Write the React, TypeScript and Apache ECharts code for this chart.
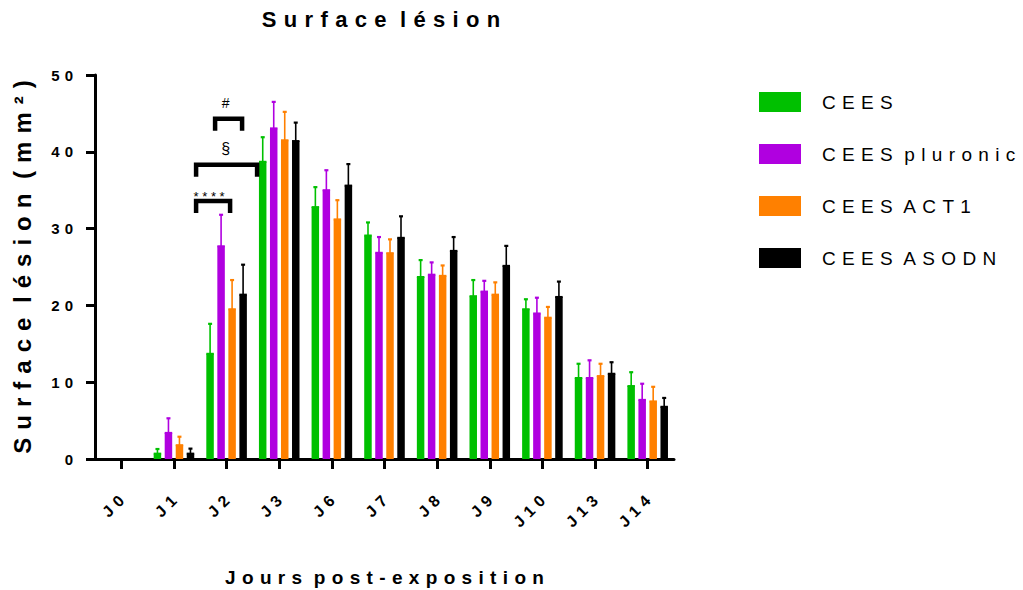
import React, { useEffect, useRef } from 'react';
import * as echarts from 'echarts';

const categories = ['J0', 'J1', 'J2', 'J3', 'J6', 'J7', 'J8', 'J9', 'J10', 'J13', 'J14'];
const seriesNames = ['CEES', 'CEES pluronic', 'CEES ACT1', 'CEES ASODN'];
const seriesColors = ['#00C000', '#B000E0', '#FF8000', '#000000'];

const ceesMean = [0, 0.7, 13.7, 38.7, 32.8, 29.1, 23.7, 21.2, 19.5, 10.55, 9.5];
const ceesErr = [0, 0.6, 3.9, 3.2, 2.6, 1.7, 2.2, 2.1, 1.3, 1.85, 1.8];
const pluronicMean = [0, 3.4, 27.7, 43.05, 35.0, 26.85, 24.0, 21.8, 18.95, 10.55, 7.7];
const pluronicErr = [0, 1.9, 4.1, 3.45, 2.6, 2.05, 1.6, 1.4, 2.05, 2.3, 2.1];
const act1Mean = [0, 1.8, 19.5, 41.5, 31.2, 26.8, 23.85, 21.4, 18.4, 10.8, 7.5];
const act1Err = [0, 1.1, 3.8, 3.7, 2.5, 1.8, 1.35, 1.6, 1.4, 1.6, 1.9];
const asodnMean = [0, 0.7, 21.4, 41.4, 35.6, 28.8, 27.1, 25.15, 21.1, 11.1, 6.8];
const asodnErr = [0, 0.65, 3.9, 2.4, 2.8, 2.8, 1.8, 2.6, 2.0, 1.5, 1.15];

const means = [ceesMean, pluronicMean, act1Mean, asodnMean];
const errs = [ceesErr, pluronicErr, act1Err, asodnErr];

const yTicks = [0, 10, 20, 30, 40, 50];

const titleText = 'Surface lésion';
const yName = 'Surface lésion (mm²)';
const xName = 'Jours post-exposition';

const FONT = 'Arial, "Liberation Sans", Helvetica, sans-serif';
const SEP = '\u2004';
const sp = (s: string) => s.split(' ').map((w) => Array.from(w).join(SEP)).join(SEP + ' ');

const BAR_W = 7.5;
const BAR_STEP = 11;

export default function App() {
  const ref = useRef<HTMLDivElement>(null);

  useEffect(() => {
    if (!ref.current) return;
    const chart = echarts.init(ref.current, null, { renderer: 'svg' });

    const barSeries = seriesNames.map((name, i) => ({
      name,
      type: 'bar',
      data: means[i],
      barWidth: BAR_W,
      barGap: '47%',
      itemStyle: { color: seriesColors[i] },
      z: 2,
    }));

    const errSeries = seriesNames.map((name, i) => ({
      name: 'err-' + name,
      type: 'custom',
      z: 3,
      data: means[i].map((m, k) => [k, m, errs[i][k]]),
      renderItem: (params: any, api: any) => {
        const e = api.value(2);
        if (!e) return null;
        const offset = (i - 1.5) * BAR_STEP;
        const x = api.coord([api.value(0), 0])[0] + offset;
        const yBase = api.coord([api.value(0), api.value(1)])[1];
        const yTop = api.coord([api.value(0), api.value(1) + e])[1];
        const color = seriesColors[i];
        return {
          type: 'group',
          children: [
            { type: 'line', shape: { x1: x, y1: yBase, x2: x, y2: yTop }, style: { stroke: color, lineWidth: 1.6 } },
            { type: 'line', shape: { x1: x - 2, y1: yTop, x2: x + 2, y2: yTop }, style: { stroke: color, lineWidth: 2.2 } },
            { type: 'line', shape: { x1: x - BAR_W / 2, y1: yBase, x2: x + BAR_W / 2, y2: yBase }, style: { stroke: color, lineWidth: 2 } },
          ],
        };
      },
    }));

    const option: any = {
      animation: false,
      backgroundColor: '#ffffff',
      textStyle: { fontFamily: FONT },
      grid: { left: 95, right: 349, top: 75, bottom: 131, containLabel: false, outerBoundsMode: 'none' },
      legend: {
        data: seriesNames,
        orient: 'vertical',
        left: 759,
        top: 92,
        padding: 0,
        itemWidth: 42,
        itemHeight: 20,
        itemGap: 32,
        icon: 'rect',
        formatter: (n: string) => sp(n),
        textStyle: { fontSize: 19, color: '#000', fontFamily: FONT, padding: [0, 0, 0, 16] },
      },
      xAxis: {
        type: 'category',
        data: categories,
        name: sp(xName),
        nameLocation: 'middle',
        nameGap: 109,
        nameTextStyle: { fontSize: 19, fontWeight: 'bold', color: '#000', fontFamily: FONT },
        axisLine: { show: true, lineStyle: { color: '#000', width: 3 } },
        axisTick: { show: true, interval: 0, inside: false, alignWithLabel: true, length: 10, lineStyle: { color: '#000', width: 3 } },
        axisLabel: {
          interval: 0,
          rotate: 45,
          margin: 39,
          fontSize: 16,
          fontWeight: 'bold',
          color: '#000',
          fontFamily: FONT,
          formatter: (v: string) => sp(v),
        },
        splitLine: { show: false },
      },
      yAxis: {
        type: 'value',
        min: yTicks[0],
        max: yTicks[yTicks.length - 1],
        interval: yTicks[1] - yTicks[0],
        name: sp(yName),
        nameLocation: 'middle',
        nameRotate: 90,
        nameGap: 61,
        nameTextStyle: { fontSize: 24, fontWeight: 'bold', color: '#000', fontFamily: FONT },
        axisLine: { show: true, lineStyle: { color: '#000', width: 3 } },
        axisTick: { show: true, inside: false, length: 9, lineStyle: { color: '#000', width: 3 } },
        axisLabel: {
          margin: 22,
          fontSize: 15,
          fontWeight: 'bold',
          color: '#000',
          fontFamily: FONT,
          formatter: (v: number) => sp(String(v)),
        },
        splitLine: { show: false },
      },
      series: [...barSeries, ...errSeries],
    };

    chart.setOption(option);

    // annotations (significance brackets) anchored on category J2 via the axes
    const p0 = chart.convertToPixel({ gridIndex: 0 }, ['J2', 0]) as number[];
    const cx = p0[0];
    const yv = (v: number) => (chart.convertToPixel({ gridIndex: 0 }, ['J2', v]) as number[])[1];
    const bracket = (x1: number, x2: number, yTopV: number) => {
      const yt = yv(yTopV);
      return {
        type: 'polyline',
        shape: { points: [[x1, yt + 12], [x1, yt], [x2, yt], [x2, yt + 12]] },
        style: { stroke: '#000', lineWidth: 4.5, fill: null, lineJoin: 'miter' },
        z: 10,
      };
    };
    const label = (text: string, x: number, yV: number, size: number) => ({
      type: 'text',
      x,
      y: yv(yV),
      style: {
        text,
        fill: '#000',
        font: `${size}px ${FONT}`,
        textAlign: 'center',
        textVerticalAlign: 'middle',
      },
      z: 10,
    });

    chart.setOption({
      graphic: [
        {
          type: 'text',
          x: 381,
          y: 19,
          style: {
            text: sp(titleText),
            fill: '#000',
            font: `bold 22px ${FONT}`,
            textAlign: 'center',
            textVerticalAlign: 'middle',
          },
        },
        bracket(cx - 30.5, cx + 3.5, 33.6),
        label('* * * *', cx - 17.5, 34.2, 13),
        bracket(cx - 30.5, cx + 30.5, 38.3),
        label('§', cx - 1, 40.4, 16),
        bracket(cx - 11.5, cx + 15.5, 44.3),
        label('#', cx - 1, 46.4, 14),
      ],
    });

    return () => chart.dispose();
  }, []);

  return (
    <div
      ref={ref}
      style={{ position: 'fixed', left: 0, top: 0, width: 1023, height: 590, background: '#fff' }}
    />
  );
}
